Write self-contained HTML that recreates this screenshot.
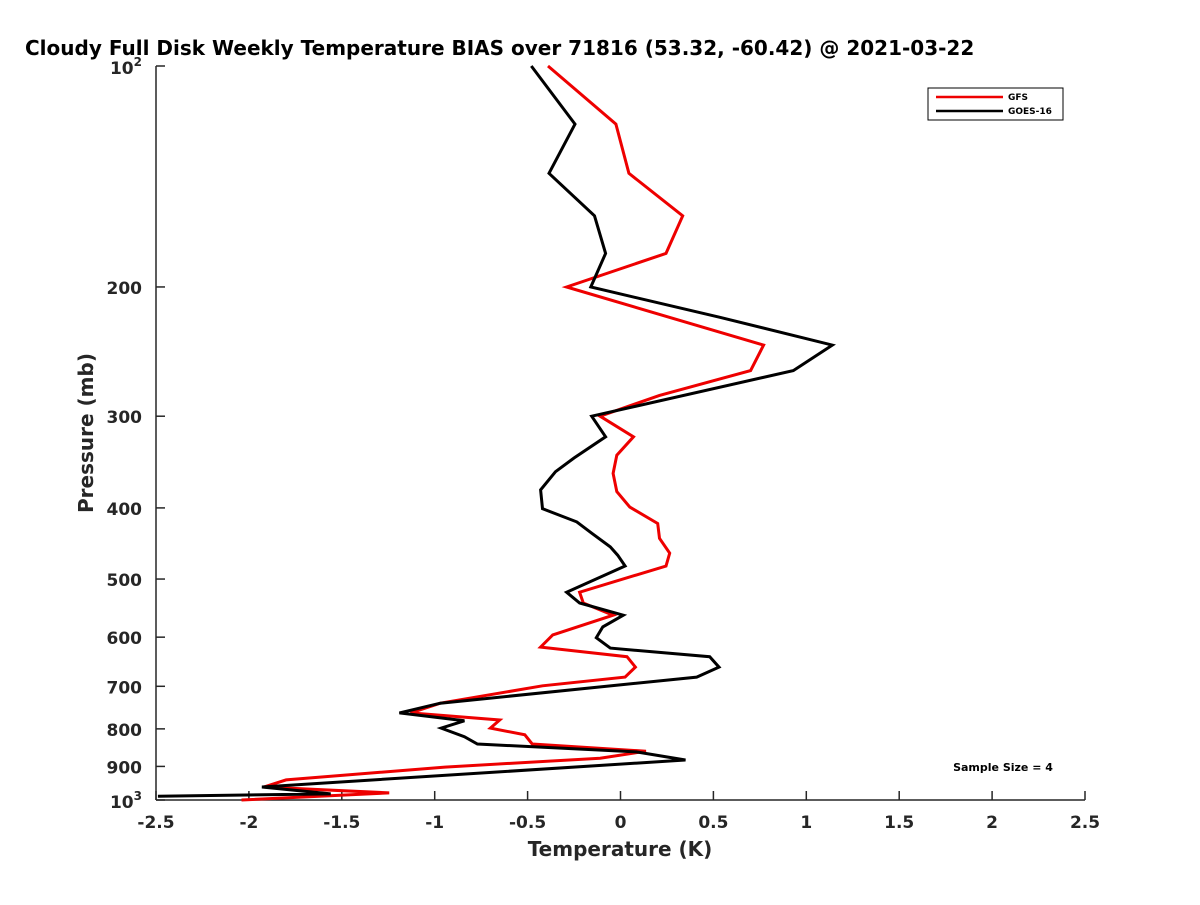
<!DOCTYPE html>
<html><head><meta charset="utf-8"><style>
body{margin:0;background:#fff}
svg text{font-family:"DejaVu Sans","Liberation Sans",sans-serif;font-weight:bold;fill:#262626}
</style></head><body>
<svg id="c" width="1200" height="900" viewBox="0 0 1200 900">
<text x="25" y="55" font-size="20" style="fill:#000">Cloudy Full Disk Weekly Temperature BIAS over 71816 (53.32, -60.42) @ 2021-03-22</text>
<text x="620" y="856" text-anchor="middle" font-size="20">Temperature (K)</text>
<text transform="translate(93,433) rotate(-90)" text-anchor="middle" font-size="20">Pressure (mb)</text>
<g id="axes"></g>
<g id="series"></g>
<g>
<rect x="928" y="88" width="135" height="32" fill="#fff" stroke="#000" stroke-width="1"/>
<line x1="936" y1="97" x2="1003" y2="97" stroke="#e00" stroke-width="2.5"/>
<text x="1008" y="100" font-size="9" style="fill:#000">GFS</text>
<line x1="936" y1="111" x2="1003" y2="111" stroke="#000" stroke-width="2.5"/>
<text x="1008" y="114" font-size="9" style="fill:#000">GOES-16</text>
</g>
<text x="1003" y="771" text-anchor="middle" font-size="11" style="fill:#000">Sample Size = 4</text>
</svg>
<script>
const xTicks=[-2.5,-2,-1.5,-1,-0.5,0,0.5,1,1.5,2,2.5];
const xTickLabels=["-2.5","-2","-1.5","-1","-0.5","0","0.5","1","1.5","2","2.5"];
const yTicks=[200,300,400,500,600,700,800,900];
const goesP=[100,120,140,160,180,200,220,240,260,300,320,342,357,378,401,418,433,452,464,480,521,539,560,581,601,621,638,659,680,738,761,780,798,820,839,860,882,960,981,988];
const goesT=[-0.48,-0.245,-0.385,-0.14,-0.08,-0.16,0.535,1.14,0.93,-0.155,-0.08,-0.25,-0.35,-0.43,-0.42,-0.235,-0.155,-0.055,-0.015,0.025,-0.29,-0.22,0.015,-0.095,-0.13,-0.055,0.48,0.53,0.41,-0.97,-1.19,-0.84,-0.965,-0.84,-0.77,0.085,0.35,-1.93,-1.56,-2.49];
const gfsP=[100,120,140,160,180,200,240,260,281,300,320,339,359,380,399,420,440,461,480,521,539,560,596,619,638,659,680,699,738,761,778,798,815,839,858,877,902,939,960,978,1000];
const gfsT=[-0.39,-0.025,0.045,0.335,0.245,-0.29,0.77,0.70,0.21,-0.11,0.07,-0.02,-0.04,-0.02,0.05,0.2,0.21,0.265,0.245,-0.22,-0.2,-0.04,-0.365,-0.43,0.035,0.08,0.025,-0.42,-0.97,-1.13,-0.65,-0.70,-0.515,-0.475,0.137,-0.11,-0.945,-1.80,-1.92,-1.245,-2.04];
const NS="http://www.w3.org/2000/svg";
const X0=156,X1=1085,Y0=66,Y1=800;
function xs(t){return X0+(t+2.5)/5*(X1-X0);}
function ys(p){return Y0+Math.log10(p/100)*(Y1-Y0);}
function mk(tag,attrs,parent){const e=document.createElementNS(NS,tag);for(const k in attrs)e.setAttribute(k,attrs[k]);parent.appendChild(e);return e;}
const ax=document.getElementById('axes');
let l=mk('line',{x1:X0,y1:Y0,x2:X0,y2:Y1,stroke:'#262626','stroke-width':1.5},ax);


l=mk('line',{x1:X0,y1:Y1,x2:X1,y2:Y1,stroke:'#262626','stroke-width':1.5},ax);


xTicks.forEach((t,i)=>{
  const x=xs(t);
  const tk=mk('line',{x1:x,y1:Y1,x2:x,y2:Y1-9,stroke:'#262626','stroke-width':1.5},ax);
  
  
  const tx=mk('text',{x:x,y:Y1+28,'text-anchor':'middle','font-size':17},ax);
  tx.textContent=xTickLabels[i];
  
  
});
[100].concat(yTicks,[1000]).forEach(p=>{
  const y=ys(p);
  const tk=mk('line',{x1:X0,y1:y,x2:X0+9,y2:y,stroke:'#262626','stroke-width':1.5},ax);
  
  
});
yTicks.forEach(p=>{
  const tx=mk('text',{x:X0-14,y:ys(p)+7,'text-anchor':'end','font-size':17},ax);
  tx.textContent=String(p);
  
  
});
[[100,'2'],[1000,'3']].forEach(([p,e])=>{
  const tx=mk('text',{x:X0-14,y:ys(p)+8,'text-anchor':'end','font-size':17},ax);
  tx.innerHTML='10<tspan font-size="12" dy="-8">'+e+'</tspan>';
  
  
});
const sg=document.getElementById('series');
function line(P,T,col,name){
  const d=P.map((p,i)=>(i?'L':'M')+xs(T[i]).toFixed(1)+','+ys(p).toFixed(1)).join('');
  const e=mk('path',{d:d,fill:'none',stroke:col,'stroke-width':3,'stroke-linejoin':'miter'},sg);
  
  
}
line(gfsP,gfsT,'#e00','gfs-line');
line(goesP,goesT,'#000','goes16-line');
</script>
</body></html>
